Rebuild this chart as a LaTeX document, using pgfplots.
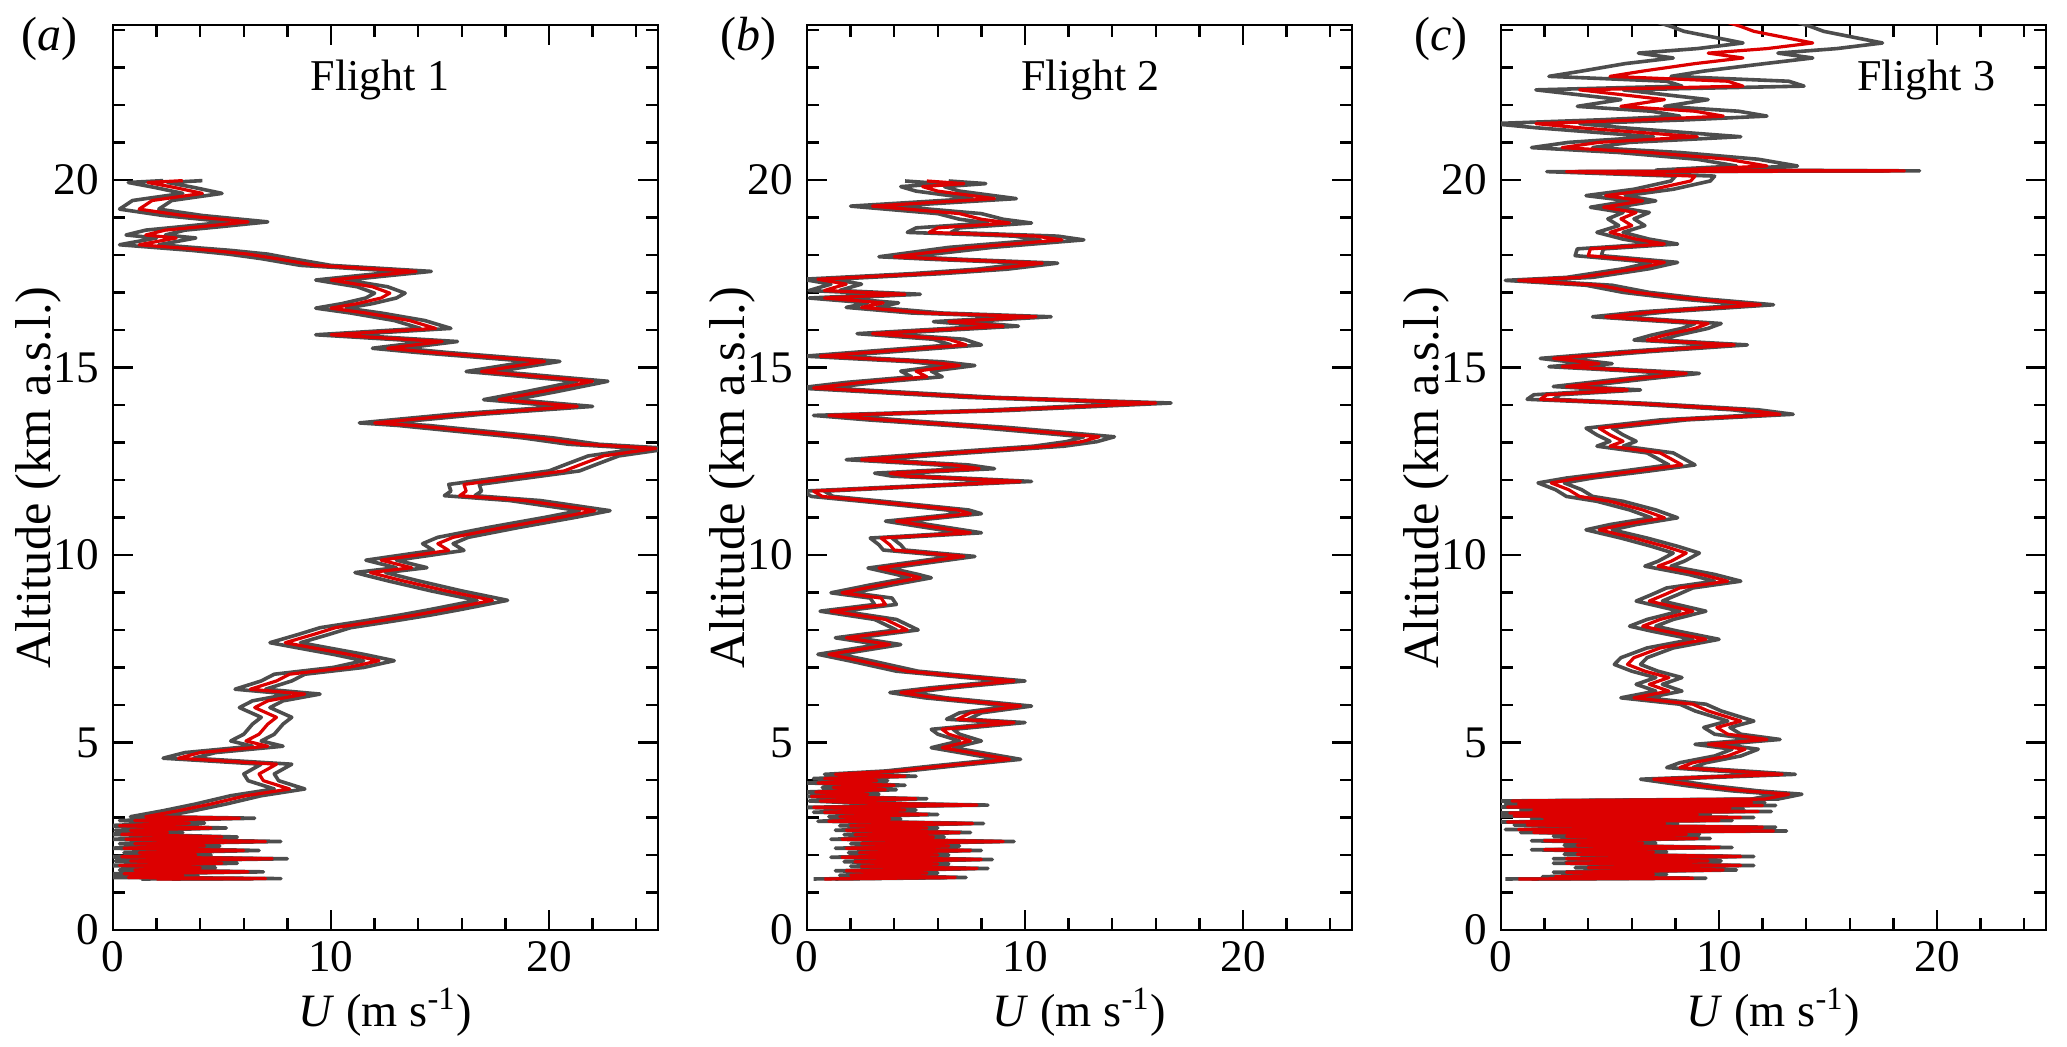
\documentclass[border=0pt]{standalone}
\usepackage{fontspec}
\setmainfont{Liberation Serif}
\usepackage{pgfplots}
\usepackage{pgfplotstable}
\pgfplotsset{compat=1.18}
\definecolor{envgray}{RGB}{77,77,77}
\definecolor{ured}{RGB}{220,0,0}

\pgfplotstableread{
alt U lo hi
19.98 3.2 2.3 4.1
19.93 1.6 0.7 2.5
19.80 2.8 1.9 3.7
19.64 4.1 3.2 5.0
19.45 1.8 0.9 2.7
19.22 1.2 0.3 2.1
19.05 3.2 2.3 4.1
18.88 6.2 5.3 7.1
18.75 4.0 3.1 4.9
18.66 2.4 1.5 3.3
18.53 1.5 0.6 2.4
18.45 2.9 2.0 3.8
18.27 1.2 0.3 2.1
18.12 4.5 3.6 5.4
18.02 6.2 5.3 7.1
17.90 7.5 6.8 8.2
17.72 9.3 8.6 10.0
17.56 13.9 13.2 14.6
17.42 11.5 10.8 12.2
17.33 10.0 9.3 10.7
17.15 11.9 11.2 12.6
16.98 12.7 12.0 13.4
16.85 12.3 11.6 13.0
16.70 11.2 10.5 11.9
16.58 10.0 9.3 10.7
16.45 11.6 10.9 12.3
16.25 13.6 12.9 14.3
16.04 14.8 14.1 15.5
15.87 10.0 9.3 10.7
15.69 15.1 14.4 15.8
15.51 12.6 11.9 13.3
15.40 14.6 13.9 15.3
15.16 19.8 19.1 20.5
14.89 16.9 16.2 17.6
14.63 22.0 21.3 22.7
14.36 19.7 19.0 20.4
14.14 17.7 17.0 18.4
13.96 21.3 20.6 22.0
13.75 16.2 15.5 16.9
13.52 12.0 11.3 12.7
13.45 13.8 13.1 14.5
13.12 19.5 18.8 20.2
12.95 21.6 20.9 22.3
12.84 24.9 24.2 25.6
12.64 22.5 21.8 23.2
12.42 21.5 20.8 22.2
12.24 20.7 20.0 21.4
11.88 16.1 15.4 16.8
11.70 16.2 15.5 16.9
11.58 15.9 15.2 16.6
11.45 18.9 18.2 19.6
11.18 22.1 21.4 22.8
11.00 20.5 19.8 21.2
10.73 17.9 17.2 18.6
10.47 15.6 14.9 16.3
10.30 14.9 14.2 15.6
10.12 15.4 14.7 16.1
9.86 12.3 11.6 13.0
9.66 13.7 13.0 14.4
9.53 11.8 11.1 12.5
9.31 13.3 12.6 14.0
9.04 15.3 14.6 16.0
8.79 17.4 16.7 18.1
8.55 15.3 14.6 16.0
8.40 13.9 13.2 14.6
8.24 12.2 11.5 12.9
8.06 10.2 9.5 10.9
7.88 9.2 8.5 9.9
7.66 7.9 7.2 8.6
7.52 9.2 8.5 9.9
7.35 10.8 10.1 11.5
7.18 12.2 11.5 12.9
7.00 10.8 10.1 11.5
6.82 8.1 7.4 8.8
6.64 7.5 6.8 8.2
6.42 6.3 5.6 7.0
6.29 8.8 8.1 9.5
6.11 7.1 6.4 7.8
5.93 6.5 5.8 7.2
5.67 7.5 6.8 8.2
5.49 7.1 6.4 7.8
5.22 6.7 6.0 7.4
5.04 6.1 5.4 6.8
4.90 7.1 6.4 7.8
4.73 4.0 3.3 4.7
4.58 3.0 2.3 3.7
4.42 7.5 6.8 8.2
4.16 6.7 6.0 7.4
3.98 6.9 6.2 7.6
3.76 8.1 7.4 8.8
3.58 6.1 5.4 6.8
3.36 4.5 3.8 5.2
3.18 3.0 2.3 3.7
3.02 1.5 0.8 2.2
2.98 5.8 5.1 6.5
2.92 1.0 0.3 1.7
2.85 3.5 2.8 4.2
2.78 0.3 -0.4 1.0
2.72 4.5 3.8 5.2
2.66 0.8 0.1 1.5
2.60 2.5 1.8 3.2
2.55 0.4 -0.3 1.1
2.48 5.0 4.3 5.7
2.42 0.6 -0.1 1.3
2.36 7.0 6.3 7.7
2.30 1.0 0.3 1.7
2.24 4.2 3.5 4.9
2.18 0.5 -0.2 1.2
2.12 6.0 5.3 6.7
2.06 1.2 0.5 1.9
2.00 3.8 3.1 4.5
1.95 0.4 -0.3 1.1
1.90 7.3 6.6 8.0
1.84 0.8 0.1 1.5
1.78 5.0 4.3 5.7
1.72 0.3 -0.4 1.0
1.66 4.0 3.3 4.7
1.60 1.0 0.3 1.7
1.55 6.2 5.5 6.9
1.50 0.5 -0.2 1.2
1.45 3.2 2.5 3.9
1.40 0.7 0.0 1.4
1.37 7.0 6.3 7.7
1.36 2.0 1.3 2.7
}\fone

\pgfplotstableread{
alt U lo hi
19.97 5.5 4.5 6.5
19.90 7.2 6.2 8.2
19.82 5.3 4.3 6.3
19.70 6.0 5.0 7.0
19.50 8.6 7.6 9.6
19.30 3.0 2.0 4.0
19.10 7.0 6.0 8.0
18.95 8.0 7.0 9.0
18.85 9.3 8.3 10.3
18.72 6.0 5.0 7.0
18.60 5.6 4.6 6.6
18.50 10.5 9.5 11.5
18.40 11.7 10.7 12.7
18.20 7.5 6.5 8.5
17.95 4.0 3.3 4.7
17.88 6.5 5.8 7.2
17.78 10.8 10.1 11.5
17.62 8.5 7.8 9.2
17.50 5.5 4.8 6.2
17.35 0.5 -0.2 1.2
17.22 1.8 1.1 2.5
17.12 1.2 0.5 1.9
17.05 0.8 0.1 1.5
16.95 4.5 3.8 5.2
16.85 0.8 0.1 1.5
16.72 3.5 2.8 4.2
16.60 2.5 1.8 3.2
16.45 5.5 4.8 6.2
16.35 10.5 9.8 11.2
16.22 6.5 5.8 7.2
16.10 9.0 8.3 9.7
15.90 3.0 2.3 3.7
15.75 6.5 5.8 7.2
15.60 7.3 6.6 8.0
15.30 0.6 -0.1 1.3
15.15 5.5 4.8 6.2
15.05 7.0 6.3 7.7
14.90 5.0 4.3 5.7
14.75 5.5 4.8 6.2
14.60 2.5 1.8 3.2
14.45 0.3 -0.4 1.0
14.20 8.0 7.3 8.7
14.05 16.0 15.3 16.7
13.85 8.5 7.8 9.2
13.72 1.0 0.3 1.7
13.60 3.5 2.8 4.2
13.40 8.5 7.8 9.2
13.15 13.4 12.7 14.1
13.02 12.6 11.9 13.3
12.90 11.1 10.4 11.8
12.70 6.2 5.5 6.9
12.54 2.5 1.8 3.2
12.40 6.7 6.0 7.4
12.30 7.9 7.2 8.6
12.18 3.8 3.1 4.5
12.10 4.6 3.9 5.3
11.96 9.8 9.3 10.3
11.70 0.3 -0.2 0.8
11.56 0.7 0.2 1.2
11.43 3.0 2.5 3.5
11.20 6.9 6.4 7.4
11.10 7.5 7.0 8.0
10.90 4.1 3.6 4.6
10.59 7.5 7.0 8.0
10.45 3.4 2.9 3.9
10.27 3.8 3.3 4.3
10.13 4.0 3.5 4.5
9.96 7.2 6.7 7.7
9.65 3.3 2.8 3.8
9.48 4.6 4.1 5.1
9.39 5.2 4.7 5.7
9.20 3.4 2.9 3.9
8.99 1.6 1.1 2.1
8.85 3.4 2.9 3.9
8.68 3.6 3.1 4.1
8.50 1.1 0.6 1.6
8.28 3.6 3.1 4.1
8.00 4.6 4.1 5.1
7.79 1.8 1.3 2.3
7.61 3.8 3.3 4.3
7.35 1.0 0.5 1.5
7.17 2.5 2.0 3.0
6.90 4.6 4.1 5.1
6.77 7.0 6.5 7.5
6.64 9.5 9.0 10.0
6.46 6.2 5.7 6.7
6.33 4.3 3.8 4.8
6.19 5.9 5.4 6.4
5.97 9.8 9.3 10.3
5.79 7.5 7.0 8.0
5.62 6.9 6.4 7.4
5.53 9.5 9.0 10.0
5.35 6.2 5.7 6.7
5.22 6.5 6.0 7.0
5.04 7.5 7.0 8.0
4.86 6.2 5.7 6.7
4.73 7.5 7.0 8.0
4.55 9.3 8.8 9.8
4.37 6.2 5.7 6.7
4.24 4.1 3.6 4.6
4.15 1.3 0.8 1.8
4.10 4.5 4.0 5.0
4.04 0.8 0.3 1.3
3.98 3.2 2.7 3.7
3.92 0.5 0.0 1.0
3.86 4.0 3.5 4.5
3.80 1.2 0.7 1.7
3.74 3.6 3.1 4.1
3.68 0.4 -0.1 0.9
3.62 2.8 2.3 3.3
3.56 0.2 -0.3 0.7
3.50 5.0 4.5 5.5
3.44 0.6 0.1 1.1
3.38 3.0 2.5 3.5
3.33 7.8 7.3 8.3
3.27 0.3 -0.2 0.8
3.20 4.5 4.0 5.0
3.14 0.8 0.3 1.3
3.08 5.5 5.0 6.0
3.02 1.5 1.0 2.0
2.96 3.8 3.3 4.3
2.90 1.0 0.5 1.5
2.84 7.6 7.1 8.1
2.78 2.0 1.5 2.5
2.72 5.5 5.0 6.0
2.66 1.8 1.3 2.3
2.60 7.0 6.5 7.5
2.54 2.2 1.7 2.7
2.48 5.8 5.3 6.3
2.42 1.6 1.1 2.1
2.36 9.0 8.5 9.5
2.30 2.5 2.0 3.0
2.24 6.5 6.0 7.0
2.18 1.8 1.3 2.3
2.12 7.5 7.0 8.0
2.06 2.4 1.9 2.9
2.00 6.0 5.5 6.5
1.94 1.6 1.1 2.1
1.88 8.0 7.5 8.5
1.82 2.2 1.7 2.7
1.76 6.0 5.5 6.5
1.70 2.5 2.0 3.0
1.64 7.8 7.3 8.3
1.58 1.8 1.3 2.3
1.52 5.5 5.0 6.0
1.46 2.0 1.5 2.5
1.40 6.8 6.3 7.3
1.36 0.8 0.3 1.3
}\ftwo

\pgfplotstableread{
alt U lo hi
24.20 10.4 7.2 13.6
24.09 11.0 7.8 14.2
23.96 11.6 8.4 14.8
23.73 13.6 10.4 16.8
23.65 14.3 11.1 17.5
23.50 12.2 9.0 15.4
23.38 9.5 6.3 12.7
23.25 11.1 7.9 14.3
23.10 8.9 5.7 12.1
22.90 6.5 3.7 9.3
22.76 5.0 2.2 7.8
22.63 10.4 7.6 13.2
22.50 11.1 8.3 13.9
22.40 3.6 1.6 5.6
22.14 7.5 5.5 9.5
21.96 5.5 3.5 7.5
21.83 8.9 6.9 10.9
21.70 10.2 8.2 12.2
21.60 6.5 4.5 8.5
21.50 1.6 -0.4 3.6
21.39 3.6 1.6 5.6
21.26 6.5 4.5 8.5
21.15 9.0 7.0 11.0
21.00 4.5 3.1 5.9
20.86 2.8 1.4 4.2
20.73 6.8 5.4 8.2
20.55 10.4 9.0 11.8
20.37 12.2 10.8 13.6
20.26 8.0 7.1 8.9
20.24 18.5 17.8 19.2
20.22 3.0 2.1 3.9
20.10 8.9 8.0 9.8
19.97 8.7 7.8 9.6
19.75 7.0 6.1 7.9
19.58 4.8 3.9 5.7
19.44 6.5 5.9 7.1
19.27 4.7 4.1 5.3
19.13 6.2 5.6 6.8
18.96 5.5 4.9 6.1
18.78 6.0 5.4 6.6
18.60 5.0 4.4 5.6
18.42 6.2 5.6 6.8
18.29 7.5 6.9 8.1
18.16 4.1 3.5 4.7
17.98 4.0 3.4 4.6
17.80 7.5 6.9 8.1
17.63 6.2 5.6 6.8
17.40 3.6 3.0 4.2
17.32 0.8 0.2 1.4
17.19 4.5 3.9 5.1
17.00 6.2 5.6 6.8
16.83 8.7 8.1 9.3
16.67 11.9 11.3 12.5
16.48 7.0 6.4 7.6
16.35 4.8 4.2 5.4
16.17 9.5 8.9 10.1
16.04 8.9 8.3 9.5
15.86 7.5 6.9 8.1
15.73 6.7 6.1 7.3
15.60 10.7 10.1 11.3
15.42 6.2 5.6 6.8
15.24 2.4 1.8 3.0
15.10 4.5 3.9 5.1
15.02 2.8 2.2 3.4
14.84 8.5 7.9 9.1
14.70 6.2 5.6 6.8
14.49 3.0 2.4 3.6
14.40 5.8 5.2 6.4
14.27 2.1 1.5 2.7
14.15 1.8 1.2 2.4
14.04 6.2 5.6 6.8
13.87 11.2 10.6 11.8
13.75 12.8 12.2 13.4
13.60 7.9 7.3 8.5
13.38 4.5 3.9 5.1
13.20 5.0 4.4 5.6
13.03 5.6 5.0 6.2
12.90 5.0 4.4 5.6
12.72 7.3 6.7 7.9
12.40 8.3 7.7 8.9
12.23 6.1 5.5 6.7
12.05 3.6 3.0 4.2
11.92 2.3 1.7 2.9
11.74 3.1 2.5 3.7
11.56 3.6 3.0 4.2
11.43 5.0 4.4 5.6
11.20 6.5 5.9 7.1
10.99 7.5 6.9 8.1
10.81 5.6 5.0 6.2
10.67 4.5 3.9 5.1
10.45 6.1 5.5 6.7
10.23 7.5 6.9 8.1
10.05 8.5 7.9 9.1
9.83 7.8 7.2 8.4
9.70 7.2 6.6 7.8
9.48 9.2 8.6 9.8
9.30 10.4 9.8 11.0
9.12 8.2 7.6 8.8
8.94 7.5 6.9 8.1
8.77 6.8 6.2 7.4
8.50 8.8 8.2 9.4
8.28 7.3 6.7 7.9
8.10 6.5 5.9 7.1
7.97 7.5 6.9 8.1
7.75 9.4 8.8 10.0
7.52 7.3 6.7 7.9
7.26 6.1 5.5 6.7
7.08 5.8 5.2 6.4
6.90 6.6 6.0 7.2
6.73 7.7 7.1 8.3
6.55 6.8 6.2 7.4
6.37 7.7 7.1 8.3
6.19 6.1 5.5 6.7
6.02 8.8 8.2 9.4
5.84 9.5 8.9 10.1
5.57 11.0 10.4 11.6
5.40 9.9 9.3 10.5
5.22 10.4 9.8 11.0
5.08 12.2 11.6 12.8
4.95 9.5 8.9 10.1
4.82 11.2 10.6 11.8
4.64 10.4 9.8 11.0
4.46 8.8 8.2 9.4
4.33 8.2 7.6 8.8
4.15 12.9 12.3 13.5
4.02 7.0 6.4 7.6
3.84 9.2 8.6 9.8
3.71 11.2 10.6 11.8
3.62 13.2 12.6 13.8
3.49 12.1 11.5 12.7
3.44 0.5 -0.1 1.1
3.40 11.5 10.9 12.1
3.36 0.8 0.2 1.4
3.32 12.0 11.4 12.6
3.28 0.3 -0.3 0.9
3.24 10.5 9.9 11.1
3.20 1.5 0.9 2.1
3.16 11.8 11.2 12.4
3.12 0.4 -0.2 1.0
3.08 9.0 8.4 9.6
3.04 0.6 0.0 1.2
3.00 11.0 10.4 11.6
2.96 2.0 1.4 2.6
2.92 10.0 9.4 10.6
2.88 0.3 -0.3 0.9
2.84 7.5 6.9 8.1
2.80 1.2 0.6 1.8
2.74 12.0 11.4 12.6
2.68 0.8 0.2 1.4
2.64 12.5 11.9 13.1
2.60 1.5 0.9 2.1
2.55 8.5 7.9 9.1
2.50 3.0 2.4 3.6
2.44 9.0 8.4 9.6
2.38 2.0 1.4 2.6
2.32 6.5 5.9 7.1
2.26 3.5 2.9 4.1
2.20 10.0 9.4 10.6
2.14 2.0 1.4 2.6
2.08 7.0 6.4 7.6
2.02 3.5 2.9 4.1
1.96 11.0 10.4 11.6
1.90 3.0 2.4 3.6
1.84 9.5 8.9 10.1
1.78 3.0 2.4 3.6
1.72 11.0 10.4 11.6
1.66 4.0 3.4 4.6
1.60 10.2 9.6 10.8
1.54 3.0 2.4 3.6
1.48 7.0 6.4 7.6
1.42 2.5 1.9 3.1
1.38 8.8 8.2 9.4
1.36 0.8 0.2 1.4
}\fthree

\pgfplotsset{
  panel/.style={
    scale only axis,
    width=136.25pt, height=226.25pt,
    anchor=south west,
    xmin=0, xmax=25, ymin=0, ymax=24.13,
    xtick={0,10,20}, minor xtick={2,4,6,8,12,14,16,18,22,24},
    ytick={0,5,10,15,20}, minor ytick={1,2,3,4,6,7,8,9,11,12,13,14,16,17,18,19,21,22,23,24},
    tick align=inside,
    major tick length=5pt, minor tick length=3pt,
    every tick/.style={black, line width=0.6pt},
    axis line style={line width=0.7pt},
    tick label style={font=\fontsize{11.3}{13}\selectfont},
    xticklabel style={inner sep=1pt, yshift=-1.6pt},
    /pgf/number format/assume math mode=true,
    xlabel={\textit{U} (m s\textsuperscript{-1})},
    xlabel style={font=\fontsize{11.6}{14}\selectfont, inner sep=0pt, at={(axis description cs:0.5,0)}, yshift=-20.5pt, anchor=center},
    ylabel={Altitude (km a.s.l.)},
    ylabel style={font=\fontsize{12.6}{14}\selectfont, at={(axis description cs:0,0.5)}, yshift=18.6pt, anchor=center},
    clip mode=individual,
  },
  envline/.style={envgray, line width=0.9pt, line join=round, no markers},
  redline/.style={ured, line width=0.8pt, line join=round, no markers},
}

\begin{document}
\begin{tikzpicture}
\path[use as bounding box] (0,0) rectangle (516.75pt,261.75pt);

\begin{axis}[panel, at={(28.25pt,29.25pt)}]
\addplot[envline] table[x=lo, y=alt] {\fone};
\addplot[envline] table[x=hi, y=alt] {\fone};
\addplot[redline] table[x=U, y=alt] {\fone};
\node[font=\fontsize{11}{13}\selectfont, anchor=base] at (rel axis cs:0.49,0.928) {Flight 1};
\node[font=\fontsize{12}{14}\selectfont, anchor=base] at (rel axis cs:-0.117,0.972) {(\textit{a})};
\end{axis}

\begin{axis}[panel, at={(201.75pt,29.25pt)}]
\addplot[envline] table[x=lo, y=alt] {\ftwo};
\addplot[envline] table[x=hi, y=alt] {\ftwo};
\addplot[redline] table[x=U, y=alt] {\ftwo};
\node[font=\fontsize{11}{13}\selectfont, anchor=base] at (rel axis cs:0.52,0.928) {Flight 2};
\node[font=\fontsize{12}{14}\selectfont, anchor=base] at (rel axis cs:-0.107,0.972) {(\textit{b})};
\end{axis}

\begin{axis}[panel, at={(375.25pt,29.25pt)}]
\addplot[envline] table[x=lo, y=alt] {\fthree};
\addplot[envline] table[x=hi, y=alt] {\fthree};
\addplot[redline] table[x=U, y=alt] {\fthree};
\node[font=\fontsize{11}{13}\selectfont, anchor=base] at (rel axis cs:0.78,0.928) {Flight 3};
\node[font=\fontsize{12}{14}\selectfont, anchor=base] at (rel axis cs:-0.11,0.972) {(\textit{c})};
\end{axis}
\end{tikzpicture}
\end{document}
